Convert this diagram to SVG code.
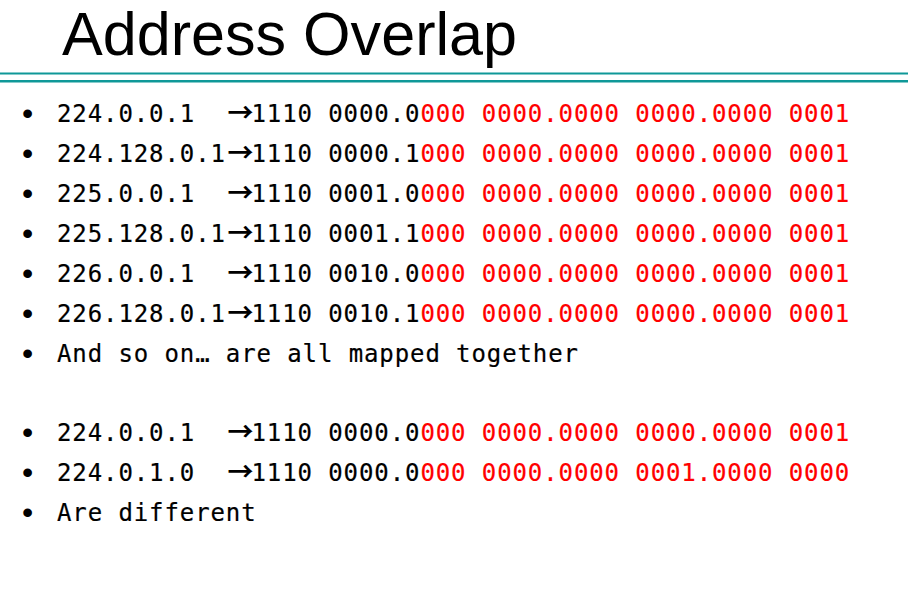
<svg xmlns="http://www.w3.org/2000/svg" width="908" height="613" viewBox="0 0 908 613">
<style>
.title{font-family:"Liberation Sans",Arial,sans-serif;font-size:62px;fill:#000}
.m{font-family:"DejaVu Sans Mono","Liberation Mono",monospace;font-size:24px;letter-spacing:0.9px;fill:#000;stroke:#000;stroke-width:0.2px}
.r{fill:#ff0000;stroke:#ff0000}
.ar{font-family:"Noto Sans CJK SC","DejaVu Sans",sans-serif;font-size:26px;font-weight:bold;fill:#000}
.b{font-family:"Liberation Sans",Arial,sans-serif;font-size:32px;fill:#000}
.rule{stroke:#0f9898}
</style>
<rect width="908" height="613" fill="#ffffff"/>
<g id="title">
<text class="title" x="62" y="55" textLength="455" lengthAdjust="spacingAndGlyphs">Address Overlap</text>
</g>
<g id="rules">
<line class="rule" x1="0" y1="73.6" x2="908" y2="73.6" stroke-width="2"/>
<line class="rule" x1="0" y1="81.2" x2="908" y2="81.2" stroke-width="2.6"/>
</g>
<g id="row1">
<text class="b" x="22" y="124">•</text>
<text class="m" x="57" y="122">224.0.0.1</text>
<text class="ar" x="227.5" y="122">→</text>
<text class="m" x="251.5" y="122">1110 0000.0</text>
<text class="m r" x="420.4" y="122">000 0000.0000 0000.0000 0001</text>
</g>
<g id="row2">
<text class="b" x="22" y="164">•</text>
<text class="m" x="57" y="162">224.128.0.1</text>
<text class="ar" x="227.5" y="162">→</text>
<text class="m" x="251.5" y="162">1110 0000.1</text>
<text class="m r" x="420.4" y="162">000 0000.0000 0000.0000 0001</text>
</g>
<g id="row3">
<text class="b" x="22" y="204">•</text>
<text class="m" x="57" y="202">225.0.0.1</text>
<text class="ar" x="227.5" y="202">→</text>
<text class="m" x="251.5" y="202">1110 0001.0</text>
<text class="m r" x="420.4" y="202">000 0000.0000 0000.0000 0001</text>
</g>
<g id="row4">
<text class="b" x="22" y="244">•</text>
<text class="m" x="57" y="242">225.128.0.1</text>
<text class="ar" x="227.5" y="242">→</text>
<text class="m" x="251.5" y="242">1110 0001.1</text>
<text class="m r" x="420.4" y="242">000 0000.0000 0000.0000 0001</text>
</g>
<g id="row5">
<text class="b" x="22" y="284">•</text>
<text class="m" x="57" y="282">226.0.0.1</text>
<text class="ar" x="227.5" y="282">→</text>
<text class="m" x="251.5" y="282">1110 0010.0</text>
<text class="m r" x="420.4" y="282">000 0000.0000 0000.0000 0001</text>
</g>
<g id="row6">
<text class="b" x="22" y="324">•</text>
<text class="m" x="57" y="322">226.128.0.1</text>
<text class="ar" x="227.5" y="322">→</text>
<text class="m" x="251.5" y="322">1110 0010.1</text>
<text class="m r" x="420.4" y="322">000 0000.0000 0000.0000 0001</text>
</g>
<g id="row7">
<text class="b" x="22" y="364">•</text>
<text class="m" x="57" y="362">And so on… are all mapped together</text>
</g>
<g id="row8">
<text class="b" x="22" y="443">•</text>
<text class="m" x="57" y="441">224.0.0.1</text>
<text class="ar" x="227.5" y="441">→</text>
<text class="m" x="251.5" y="441">1110 0000.0</text>
<text class="m r" x="420.4" y="441">000 0000.0000 0000.0000 0001</text>
</g>
<g id="row9">
<text class="b" x="22" y="483">•</text>
<text class="m" x="57" y="481">224.0.1.0</text>
<text class="ar" x="227.5" y="481">→</text>
<text class="m" x="251.5" y="481">1110 0000.0</text>
<text class="m r" x="420.4" y="481">000 0000.0000 0001.0000 0000</text>
</g>
<g id="row10">
<text class="b" x="22" y="523">•</text>
<text class="m" x="57" y="521">Are different</text>
</g>
</svg>
